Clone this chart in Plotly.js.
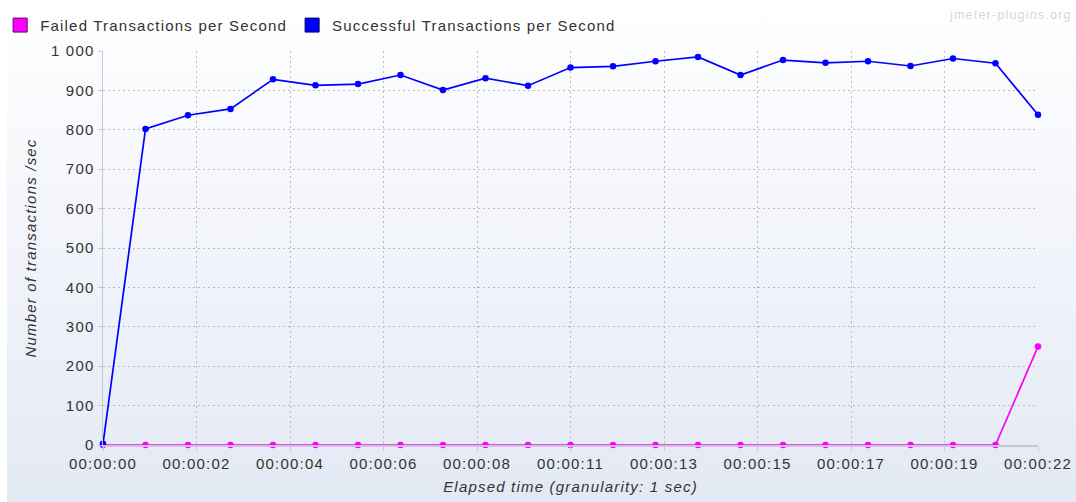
<!DOCTYPE html>
<html>
<head>
<meta charset="utf-8">
<script src="https://cdn.plot.ly/plotly-3.0.1.min.js"></script>
<style>
  html, body { margin: 0; padding: 0; background: #ffffff; }
  #chart {
    width: 1076px; height: 502px;
    background:
      linear-gradient(to right, #ffffff 7px, rgba(255,255,255,0) 7px),
      linear-gradient(to bottom, #ffffff 0%, #f4f6fb 40%, #e3e9f4 100%);
  }
  /* applied everywhere so Plotly's text measurement sees the same spacing */
  text { letter-spacing: 1.2px; }
</style>
</head>
<body>
<div id="chart"></div>
<script>
// Elapsed time in seconds since the start of the test
const elapsedSeconds = [0, 1, 2, 3, 4, 5, 6, 7, 8, 9, 10, 11, 12, 13, 14, 15, 16, 17, 18, 19, 20, 21, 22];

// Transactions per second
const successfulTps = [3, 802, 837, 853, 928, 913, 916, 939, 901, 931, 912, 958, 961, 974, 985, 939, 977, 970, 974, 962, 981, 969, 838];
const failedTps     = [0, 0, 0, 0, 0, 0, 0, 0, 0, 0, 0, 0, 0, 0, 0, 0, 0, 0, 0, 0, 0, 0, 250];

// Time axis: ten equal divisions of the 22 s span, labels truncated to whole seconds
const timeTickPositions = [0, 2.2, 4.4, 6.6, 8.8, 11, 13.2, 15.4, 17.6, 19.8, 22];
const timeTickLabels = ['00:00:00', '00:00:02', '00:00:04', '00:00:06', '00:00:08', '00:00:11',
                        '00:00:13', '00:00:15', '00:00:17', '00:00:19', '00:00:22'];

const seriesNames = ['Failed Transactions per Second', 'Successful Transactions per Second'];
const seriesColors = ['#ff00ff', '#0000ff'];
const swatchBorders = ['#660066', '#000066'];

const FONT = 'Liberation Sans, Arial, Helvetica, sans-serif';

const lineTrace = (y, i) => ({
  x: elapsedSeconds, y: y, type: 'scatter', mode: 'lines+markers',
  name: seriesNames[i], showlegend: false, hoverinfo: 'x+y', cliponaxis: false,
  line: { color: seriesColors[i], width: 1.7 },
  marker: { color: seriesColors[i], size: 6.5, symbol: 'circle' }
});

// Square swatches for the legend
const legendTrace = (i) => ({
  x: [null], y: [null], type: 'scatter', mode: 'markers',
  name: seriesNames[i], showlegend: true, hoverinfo: 'skip',
  marker: { color: seriesColors[i], size: 14, symbol: 'square',
            line: { color: swatchBorders[i], width: 1 } }
});

const data = [
  lineTrace(failedTps, 0),
  lineTrace(successfulTps, 1),
  legendTrace(0),
  legendTrace(1)
];

const gridStyle = { gridcolor: '#b9bcc4', gridwidth: 1, griddash: '2px,3px' };

const layout = {
  width: 1076, height: 502,
  margin: { l: 103, r: 38, t: 51, b: 57, pad: 0, autoexpand: false },
  paper_bgcolor: 'rgba(0,0,0,0)',
  plot_bgcolor: 'rgba(0,0,0,0)',
  font: { family: FONT, size: 15, color: '#333333' },
  separators: ', ',
  showlegend: true,
  legend: {
    orientation: 'h', x: -0.11, xanchor: 'left', y: 1.107, yanchor: 'top',
    bgcolor: 'rgba(0,0,0,0)', borderwidth: 0,
    font: { family: FONT, size: 15, color: '#333333' },
    itemwidth: 30, tracegroupgap: 0
  },
  xaxis: Object.assign({
    range: [0, 22], tickmode: 'array',
    tickvals: timeTickPositions, ticktext: timeTickLabels,
    showline: true, linecolor: '#c3c8d2', linewidth: 1.5, mirror: false,
    ticks: 'outside', ticklen: 4, tickcolor: '#c3c8d2',
    zeroline: false, showgrid: true, automargin: true,
    tickfont: { family: FONT, size: 15, color: '#333333' },
    title: { text: 'Elapsed time (granularity: 1 sec)', standoff: 11,
             font: { family: FONT, size: 15, color: '#333333', style: 'italic' } },
    fixedrange: true
  }, gridStyle),
  yaxis: Object.assign({
    range: [0, 1000], dtick: 100, tick0: 0, separatethousands: true, tickformat: ',d',
    showline: true, linecolor: '#c3c8d2', linewidth: 1.5,
    ticks: 'outside', ticklen: 4, tickcolor: '#c3c8d2',
    zeroline: false, showgrid: true, automargin: true,
    tickfont: { family: FONT, size: 15, color: '#333333' },
    title: { text: 'Number of transactions /sec', standoff: 10,
             font: { family: FONT, size: 15, color: '#333333', style: 'italic' } },
    fixedrange: true
  }, gridStyle),
  annotations: [{
    text: 'jmeter-plugins.org', xref: 'paper', yref: 'paper',
    x: 1.039, xanchor: 'right', y: 1.092, yanchor: 'middle', showarrow: false,
    font: { family: FONT, size: 12.5, color: '#d3d7df' }
  }]
};

Plotly.newPlot('chart', data, layout, { displayModeBar: false, staticPlot: true });
</script>
</body>
</html>
